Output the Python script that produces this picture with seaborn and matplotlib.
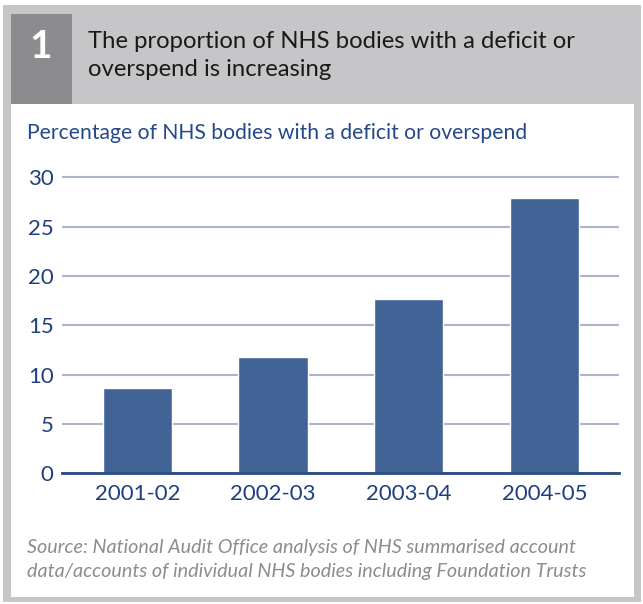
import matplotlib
matplotlib.use("Agg")
import matplotlib.pyplot as plt
import seaborn as sns
from matplotlib.patches import Rectangle

years = ["2001-02", "2002-03", "2003-04", "2004-05"]
values = [8.6, 11.8, 17.7, 27.9]
yticks = [0, 5, 10, 15, 20, 25, 30]

title_lines = ["The proportion of NHS bodies with a deficit or", "overspend is increasing"]
subtitle = "Percentage of NHS bodies with a deficit or overspend"
source_lines = ["Source: National Audit Office analysis of NHS summarised account",
                "data/accounts of individual NHS bodies including Foundation Trusts"]

W, H = 643, 604
sns.set_theme(style="white")
plt.rcParams['font.family'] = ['Lato', 'DejaVu Sans']

fig = plt.figure(figsize=(W / 100, H / 100), dpi=100)
fig.patch.set_facecolor("white")

def fx(x):
    return x / W

def fy(y):
    return 1 - y / H

def rect(x0, y0, x1, y1, color, z=0):
    fig.patches.append(Rectangle((fx(x0), fy(y1)), fx(x1) - fx(x0), fy(y0) - fy(y1),
                                 transform=fig.transFigure, facecolor=color,
                                 edgecolor="none", zorder=z))

rect(3, 5, 641, 602, "#c6c6c8", 0)
rect(11, 104, 634, 597, "white", 1)
rect(11, 14, 72, 104, "#8c8c8e", 1)

fig.text(fx(41), fy(46), "1", color="white", fontsize=28, fontweight="bold",
         ha="center", va="center", zorder=3)
fig.text(fx(88), fy(42), title_lines[0], color="#1a1a1a", fontsize=17.2, ha="left", va="center", zorder=3)
fig.text(fx(88), fy(70), title_lines[1], color="#1a1a1a", fontsize=17.2, ha="left", va="center", zorder=3)
fig.text(fx(27), fy(133), subtitle, color="#24488a", fontsize=15.2, ha="left", va="center", zorder=3)
fig.text(fx(27), fy(548), source_lines[0], color="#8c8c8c", fontsize=14.2, style="italic",
         ha="left", va="center", zorder=3)
fig.text(fx(27), fy(572), source_lines[1], color="#8c8c8c", fontsize=14.2, style="italic",
         ha="left", va="center", zorder=3)

ppu = (473.3 - 177.3) / 30.0
ytop = 30.5
ax_left, ax_right = 62, 619
ax_bottom = 473.3
ax_top = ax_bottom - ytop * ppu
ax = fig.add_axes([fx(ax_left), fy(ax_bottom), fx(ax_right) - fx(ax_left), (ax_bottom - ax_top) / H])
ax.set_zorder(2)
ax.patch.set_alpha(0)

sns.barplot(x=years, y=values, color="#416396", saturation=1, width=0.51, ax=ax, zorder=3)

ax.set_xlim(-0.555, 3.55)
ax.set_ylim(0, ytop)
ax.set_yticks(yticks)
ax.set_yticklabels([str(v) for v in yticks])
ax.yaxis.grid(True, color="#aab4cc", linewidth=1.5)
ax.set_axisbelow(True)
for s in ["top", "right", "left"]:
    ax.spines[s].set_visible(False)
ax.spines["bottom"].set_color("#2d4a80")
ax.spines["bottom"].set_linewidth(2)
ax.spines["bottom"].set_zorder(4)
ax.tick_params(axis="both", length=0, labelsize=16, labelcolor="#1f3f7f")
ax.tick_params(axis="y", pad=6)
ax.tick_params(axis="x", pad=8)
ax.set_xlabel("")
ax.set_ylabel("")

fig.savefig("out.png", dpi=100)
